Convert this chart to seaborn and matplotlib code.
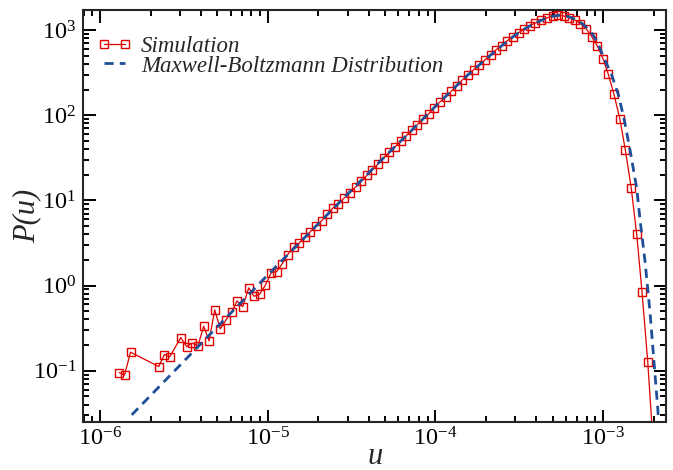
import numpy as np
import pandas as pd
import matplotlib
matplotlib.use('Agg')
import matplotlib.pyplot as plt
import seaborn as sns
from matplotlib.font_manager import FontProperties

# Simulation histogram
sim_u = [1.30e-6, 1.40e-6, 1.52e-6, 2.24e-6, 2.42e-6, 2.60e-6, 3.03e-6, 3.29e-6,
         3.55e-6, 3.83e-6, 4.15e-6, 4.47e-6, 4.83e-6, 5.21e-6, 5.64e-6, 6.10e-6,
         6.56e-6, 7.10e-6, 7.70e-6, 8.28e-6, 8.95e-6, 9.68e-6, 1.05e-5, 1.13e-5,
         1.22e-5, 1.315e-5, 1.43e-5, 1.54e-5, 1.66e-5, 1.79e-5, 1.94e-5, 2.10e-5,
         2.27e-5, 2.45e-5, 2.64e-5, 2.86e-5, 3.10e-5, 3.35e-5, 3.62e-5, 3.90e-5,
         4.21e-5, 4.55e-5, 4.92e-5, 5.31e-5, 5.74e-5, 6.21e-5, 6.68e-5, 7.22e-5,
         7.80e-5, 8.44e-5, 9.12e-5, 9.81e-5, 1.06e-4, 1.15e-4, 1.24e-4, 1.34e-4,
         1.44e-4, 1.56e-4, 1.69e-4, 1.83e-4, 1.97e-4, 2.14e-4, 2.30e-4, 2.48e-4,
         2.67e-4, 2.89e-4, 3.13e-4, 3.37e-4, 3.65e-4, 3.94e-4, 4.26e-4, 4.61e-4,
         5.00e-4, 5.38e-4, 5.82e-4, 6.29e-4, 6.80e-4, 7.31e-4, 7.94e-4, 8.55e-4,
         9.23e-4, 9.98e-4, 1.074e-3, 1.161e-3, 1.259e-3, 1.356e-3, 1.47e-3, 1.585e-3,
         1.705e-3, 1.845e-3, 1.99e-3]
sim_p = [0.095, 0.089, 0.165, 0.112, 0.155, 0.145, 0.245, 0.192,
         0.212, 0.194, 0.333, 0.224, 0.518, 0.310, 0.395, 0.486,
         0.66, 0.565, 0.94, 0.748, 0.79, 1.01, 1.42, 1.46,
         1.80, 2.31, 2.84, 3.16, 3.69, 4.26, 5.05, 5.78,
         6.87, 8.15, 9.08, 10.7, 12.3, 14.4, 16.7, 19.6,
         22.9, 26.7, 31.5, 36.7, 42.4, 49.4, 57.0, 67.0,
         77.4, 90.2, 104, 122, 142, 164, 190, 220,
         257, 297, 342, 392, 445, 513, 587, 654,
         743, 834, 930, 1019, 1123, 1208, 1300, 1384,
         1460, 1500, 1460, 1394, 1310, 1186, 1027, 834,
         649, 460, 301, 175, 89.6, 39.1, 14.0, 4.0,
         0.84, 0.127, 0.013]

# Maxwell-Boltzmann curve
mb_u = [1.545e-6, 1e-5, 3e-5, 5e-5, 7e-5, 1e-4, 1.5e-4, 2e-4, 2.5e-4, 3e-4,
        3.5e-4, 4e-4, 4.5e-4, 5e-4, 5.5e-4, 6e-4, 6.5e-4, 7e-4, 7.5e-4, 8e-4,
        8.5e-4, 8.95e-4, 9.5e-4, 1.012e-3, 1.124e-3, 1.233e-3, 1.337e-3, 1.446e-3,
        1.585e-3, 1.66e-3, 1.778e-3, 1.905e-3, 2.013e-3, 2.12e-3, 2.18e-3]
mb_p = [0.0303, 1.33, 11.9, 32.8, 62.5, 127, 277, 457, 660, 878,
        1065, 1225, 1355, 1450, 1490, 1460, 1390, 1300, 1190, 1060,
        935, 800, 630, 466, 297, 173, 88, 39.1,
        13.9, 5.9, 1.91, 0.473, 0.122, 0.0347, 0.012]

sns.set_style('ticks')
plt.rcParams['font.family'] = ['Liberation Serif', 'DejaVu Serif']
plt.rcParams['mathtext.fontset'] = 'custom'
plt.rcParams['mathtext.rm'] = 'Liberation Serif'
plt.rcParams['mathtext.it'] = 'Liberation Serif:italic'

fig = plt.figure(figsize=(6.73, 4.70), dpi=100)
ax = fig.add_axes([0.1238, 0.1021, 0.8658, 0.8756])

sim = pd.DataFrame({'u': sim_u, 'P': sim_p})
mb = pd.DataFrame({'u': mb_u, 'P': mb_p})

red = '#e00000'
blue = '#1f4f99'
sns.lineplot(data=sim, x='u', y='P', ax=ax, color=red, lw=0.9, marker='s', ms=5.5,
             mfc='none', mec=red, mew=1.0, label='Simulation', legend=False)
sns.lineplot(data=mb, x='u', y='P', ax=ax, color=blue, lw=2.0, linestyle='--',
             label='Maxwell-Boltzmann Distribution', legend=False)
ax.lines[1].set_dashes([3.3, 2.2])

ax.set_xscale('log')
ax.set_yscale('log')
ax.set_xlim(7.95e-7, 2.37e-3)
ax.set_ylim(0.025, 1694)

for s in ax.spines.values():
    s.set_linewidth(1.5)
ax.tick_params(which='both', direction='in', top=True, right=True, width=1.4,
               labelsize=17.5, colors='black')
ax.tick_params(which='major', length=9)
ax.tick_params(which='minor', length=4.5)
ax.tick_params(axis='x', pad=4)
ax.tick_params(axis='y', pad=5)

ax.set_xlabel('u', fontsize=22, fontstyle='italic', labelpad=-6)
ax.set_ylabel('P(u)', fontsize=22, fontstyle='italic', labelpad=-6)

leg_font = FontProperties(family='Liberation Serif', style='italic', size=16.5)
ax.legend(loc='upper left', frameon=False, numpoints=2, prop=leg_font,
          handlelength=1.5, handletextpad=0.42, labelspacing=-0.05,
          borderaxespad=0.3, bbox_to_anchor=(-0.004, 0.978))

fig.savefig('out.png', dpi=100)
